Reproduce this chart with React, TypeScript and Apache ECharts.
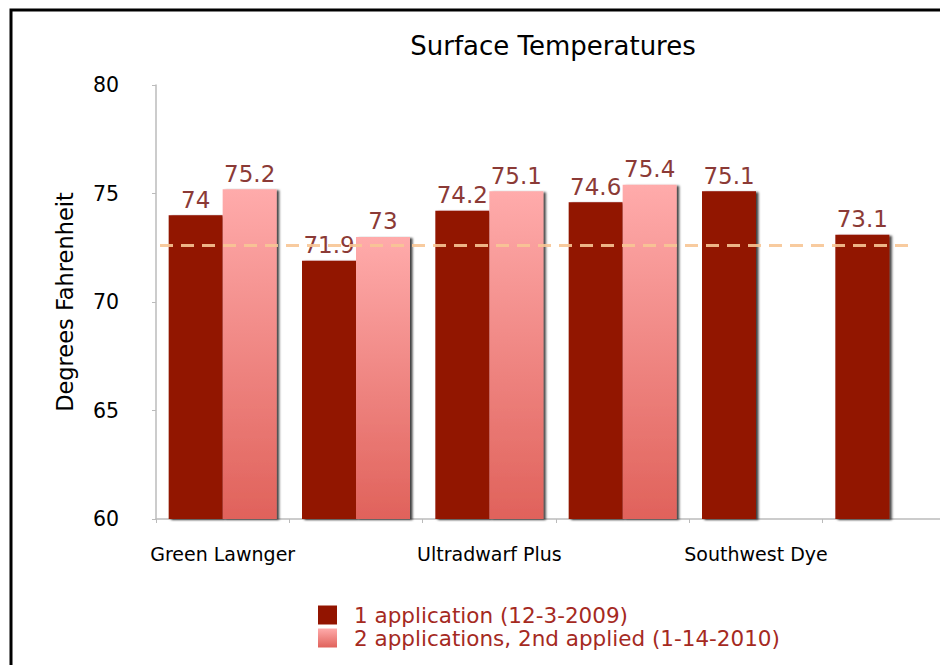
import React, { useEffect, useRef } from "react";
import * as echarts from "echarts";

const categories = [
  "Green Lawnger",
  "Green Lawnger (2)",
  "Ultradwarf Plus",
  "Ultradwarf Plus (2)",
  "Southwest Dye",
  "Southwest Dye (2)",
];
const oneApplication = [74, 71.9, 74.2, 74.6, 75.1, 73.1];
const twoApplications: (number | null)[] = [75.2, 73, 75.1, 75.4, null, null];
const referenceLine = 72.6;
const seriesNames = ["1 application (12-3-2009)", "2 applications, 2nd applied (1-14-2010)"];

const FONT = "'DejaVu Sans', sans-serif";

export default function App() {
  const ref = useRef<HTMLDivElement>(null);
  useEffect(() => {
    if (!ref.current) return;
    const chart = echarts.init(ref.current, undefined, { renderer: "svg" });
    const shadow = {
      shadowColor: "rgba(0,0,0,0.75)",
      shadowBlur: 2,
      shadowOffsetX: 2.5,
      shadowOffsetY: 1,
    };
    const labelCfg = {
      show: true,
      position: "top",
      distance: 4,
      color: "#8b3a36",
      fontSize: 23,
      fontFamily: FONT,
    };
    chart.setOption({
      animation: false,
      backgroundColor: "#fff",
      textStyle: { fontFamily: FONT },
      graphic: [
        {
          type: "rect",
          shape: { x: 11, y: 10, width: 1200, height: 800 },
          style: { fill: "none", stroke: "#000", lineWidth: 3 },
          silent: true,
        },
        {
          type: "text",
          x: 553,
          y: 46,
          style: {
            text: "Surface Temperatures",
            font: `26px ${FONT}`,
            fill: "#000",
            align: "center",
            verticalAlign: "middle",
            textAlign: "center",
            textVerticalAlign: "middle",
          },
        },
      ],
      legend: {
        orient: "vertical",
        left: 318,
        top: 604,
        padding: 0,
        itemWidth: 19,
        itemHeight: 19,
        itemGap: 1,
        icon: "rect",
        textStyle: {
          color: "#a52a1f",
          fontSize: 21.5,
          fontFamily: FONT,
          padding: [0, 0, 0, 12],
        },
        data: seriesNames,
      },
      grid: { left: 156, right: 44, top: 85, bottom: 146 },
      xAxis: {
        type: "category",
        data: categories,
        axisLine: { lineStyle: { color: "#bbbbbb", width: 1.5 } },
        axisTick: { show: true, interval: 0, length: 4, lineStyle: { color: "#bbbbbb" } },
        axisLabel: { interval: 1, color: "#000", fontSize: 19, fontFamily: FONT, margin: 25 },
      },
      yAxis: {
        type: "value",
        min: 60,
        max: 80,
        interval: 5,
        name: "Degrees Fahrenheit",
        nameLocation: "middle",
        nameGap: 80,
        nameTextStyle: { color: "#000", fontSize: 22.5, fontFamily: FONT },
        axisLine: { show: true, lineStyle: { color: "#bbbbbb", width: 1.5 } },
        axisTick: { show: true, length: 4, lineStyle: { color: "#bbbbbb" } },
        axisLabel: { color: "#000", fontSize: 20.5, fontFamily: FONT, margin: 37 },
        splitLine: { show: false },
      },
      series: [
        {
          name: seriesNames[0],
          type: "bar",
          data: oneApplication,
          barWidth: 54,
          barGap: "0%",
          itemStyle: { color: "#921400", ...shadow },
          label: labelCfg,
          markLine: {
            silent: true,
            symbol: ["none", "none"],
            label: { show: false },
            lineStyle: { color: "#f7c595", type: [13, 8], width: 3, opacity: 0.9 },
            data: [[{ yAxis: referenceLine, x: 160 }, { yAxis: referenceLine, x: 913 }]],
          },
          z: 2,
        },
        {
          name: seriesNames[1],
          type: "bar",
          data: twoApplications,
          barWidth: 54,
          itemStyle: {
            color: new echarts.graphic.LinearGradient(0, 0, 0, 1, [
              { offset: 0, color: "#ffabab" },
              { offset: 1, color: "#e0625b" },
            ]),
            ...shadow,
          },
          label: labelCfg,
          z: 2,
        },
      ],
    });
    return () => chart.dispose();
  }, []);
  return (
    <div style={{ position: "fixed", left: 0, top: 0, width: 940, height: 665, overflow: "hidden", background: "#fff" }}>
      <div ref={ref} style={{ width: 1000, height: 665 }} />
    </div>
  );
}
